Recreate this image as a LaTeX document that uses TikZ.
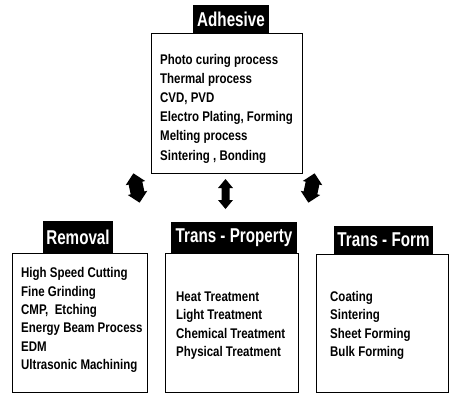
\documentclass[tikz,border=0pt]{standalone}
\usepackage{fontspec}
\newfontfamily\bodyfont[FakeStretch=0.82]{Liberation Sans Bold}
\newfontfamily\titlefont[FakeStretch=0.76]{Liberation Sans Bold}
\begin{document}
\begin{tikzpicture}[x=1pt,y=-1pt,
  bodybox/.style={draw=black,line width=1pt,fill=white},
  titlebox/.style={fill=black,text=white,inner sep=0pt,font=\titlefont\fontsize{20}{22}\selectfont},
  listtxt/.style={anchor=west,align=left,inner sep=0pt,font=\bodyfont\fontsize{14}{19.2}\selectfont},
  listlow/.style={anchor=west,align=left,inner sep=0pt,font=\bodyfont\fontsize{14}{18.3}\selectfont},
  blockarrow/.style={fill=black}]
\useasboundingbox (0,0) rectangle (456,394);

% Adhesive
\draw[bodybox] (151,33) rectangle (302,173);
\node[titlebox,minimum width=76pt,minimum height=28pt] (adh) at (231,19) {Adhesive};
\node[listtxt] (adhlist) at (160,108.5) {Photo curing process\\Thermal process\\CVD, PVD\\Electro Plating, Forming\\Melting process\\Sintering , Bonding};

% Removal
\draw[bodybox] (12,253) rectangle (147,392);
\node[titlebox,minimum width=70pt,minimum height=32pt] (rem) at (78,237) {Removal};
\node[listlow] (remlist) at (21,320) {High Speed Cutting\\Fine Grinding\\CMP,\ \ Etching\\Energy Beam Process\\EDM\\Ultrasonic Machining};

% Trans - Property
\draw[bodybox] (165,253) rectangle (298,392);
\node[titlebox,minimum width=126pt,minimum height=31pt] (prop) at (234,237.5) {Trans - Property};
\node[listlow] (proplist) at (176,325.5) {Heat Treatment\\Light Treatment\\Chemical Treatment\\Physical Treatment};

% Trans - Form
\draw[bodybox] (316,254) rectangle (448,392);
\node[titlebox,minimum width=99pt,minimum height=28pt] (form) at (383.5,240) {Trans - Form};
\node[listlow] (formlist) at (330,325.5) {Coating\\Sintering\\Sheet Forming\\Bulk Forming};

% block arrows
\coordinate (ac) at (225.5,194);
\coordinate (al) at (136.5,188);
\coordinate (ar) at (311.5,188);
\fill[blockarrow,shift={(ac)}] (0,-15) -- (7.5,-6) -- (4,-6) -- (4,6) -- (7.5,6) -- (0,15) -- (-7.5,6) -- (-4,6) -- (-4,-6) -- (-7.5,-6) -- cycle;
\fill[blockarrow,shift={(al)},rotate=12] (0,-15) -- (10,-5) -- (7,-5) -- (7,5) -- (10,5) -- (0,15) -- (-10,5) -- (-7,5) -- (-7,-5) -- (-10,-5) -- cycle;
\fill[blockarrow,shift={(ar)},rotate=-12] (0,-15) -- (10,-5) -- (7,-5) -- (7,5) -- (10,5) -- (0,15) -- (-10,5) -- (-7,5) -- (-7,-5) -- (-10,-5) -- cycle;
\end{tikzpicture}
\end{document}
